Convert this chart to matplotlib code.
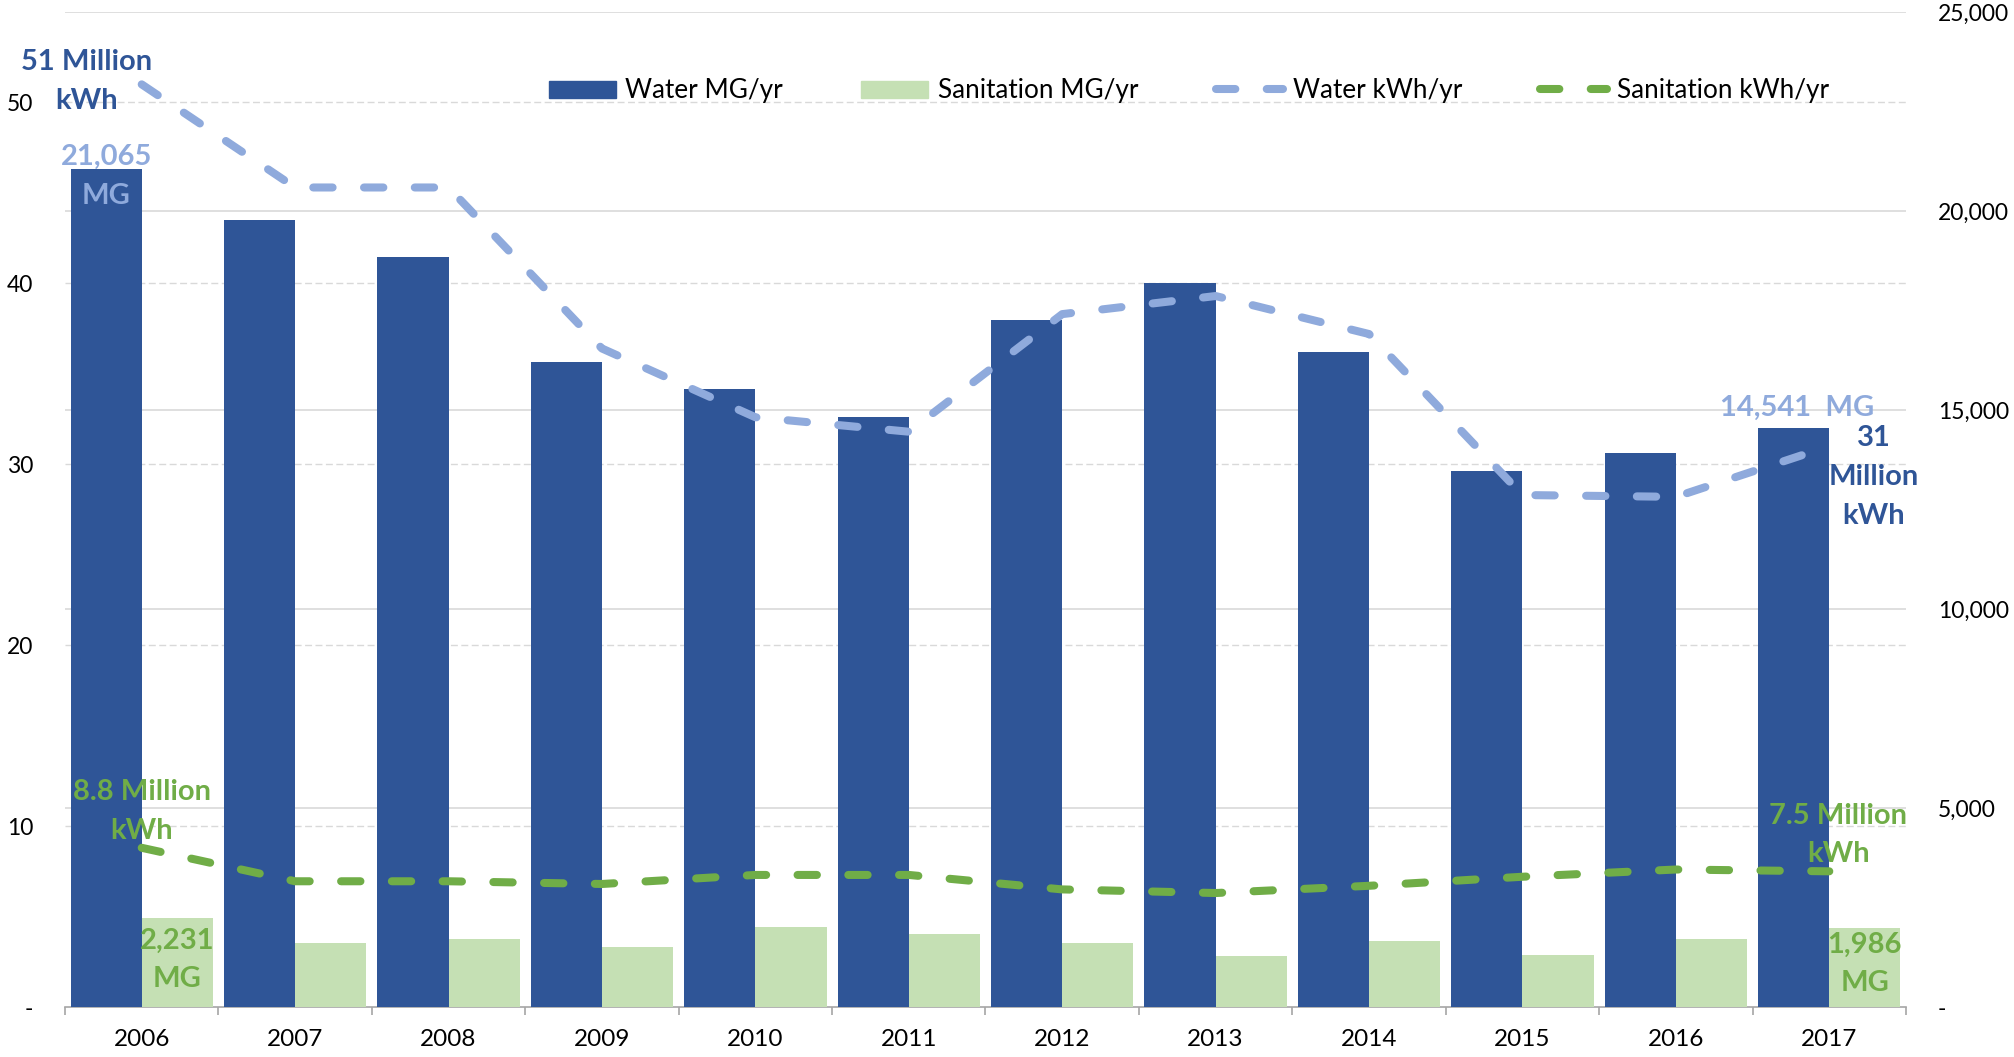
import numpy as np
import matplotlib.pyplot as plt
from matplotlib.patches import Patch
from matplotlib.lines import Line2D

plt.rcParams['font.family'] = ['Lato', 'DejaVu Sans']

# data
years = ['2006', '2007', '2008', '2009', '2010', '2011',
         '2012', '2013', '2014', '2015', '2016', '2017']
water_mg = [21065, 19780, 18840, 16210, 15530, 14820,
            17265, 18195, 16460, 13470, 13920, 14541]
sanit_mg = [2231, 1610, 1700, 1510, 2000, 1840,
            1610, 1280, 1670, 1310, 1710, 1986]
water_kwh = [51, 45.3, 45.3, 36.4, 32.6, 31.8,
             38.3, 39.3, 37.2, 28.3, 28.2, 31]
sanit_kwh = [8.8, 6.95, 6.95, 6.8, 7.3, 7.3,
             6.5, 6.3, 6.7, 7.2, 7.6, 7.5]

c_water = '#2F5597'
c_sanit = '#C5E0B4'
c_wline = '#8FAADC'
c_sline = '#70AD47'
grid_c = '#D9D9D9'

fig = plt.figure(figsize=(20.15, 10.57), dpi=100)
ax = fig.add_axes([65/2015, 50/1057, 1841/2015, 995/1057])
ax2 = ax.twinx()

x = np.arange(len(years))
w = 0.464
RMAX, LMAX = 25000, 55

# bars (right scale)
ax.bar(x - w/2, water_mg, w, color=c_water, zorder=3)
ax.bar(x + w/2, sanit_mg, w, color=c_sanit, zorder=3)
ax.set_ylim(0, RMAX)
ax.set_xlim(-0.5, len(years) - 0.5)

# solid grid for right axis, dashed grid for left axis (kept behind bars)
for v in range(5000, RMAX + 1, 5000):
    ax.axhline(v, color=grid_c, lw=1.2, zorder=1)
for v in range(10, 51, 10):
    ax.axhline(v / LMAX * RMAX, color=grid_c, lw=1.0, ls=(0, (5, 2.5)), zorder=1)

# lines (left scale)
lkw = dict(lw=5.8, dash_capstyle='round', solid_capstyle='round')
ax2.plot(x, water_kwh, color=c_wline, dashes=(2.4, 3.9), **lkw)
ax2.plot(x, sanit_kwh, color=c_sline, dashes=(2.4, 3.9), **lkw)
ax2.set_ylim(0, LMAX)

# ticks
ax.yaxis.tick_right()
ax.set_yticks(range(0, RMAX + 1, 5000))
ax.set_yticklabels(['-'] + ['{:,}'.format(v) for v in range(5000, RMAX + 1, 5000)])
ax.tick_params(axis='y', length=0, pad=23, labelsize=16.5)

ax2.yaxis.tick_left()
ax2.set_yticks(range(0, 51, 10))
ax2.set_yticklabels(['-'] + [str(v) for v in range(10, 51, 10)])
ax2.tick_params(axis='y', length=0, pad=23, labelsize=16.5)

ax.set_xticks(x)
ax.set_xticklabels(years)
ax.set_xticks(np.arange(-0.5, len(years)), minor=True)
ax.tick_params(axis='x', which='major', length=0, pad=16, labelsize=17.5)
ax.tick_params(axis='x', which='minor', length=6, width=1.2, color='#A6A6A6')

for a in (ax, ax2):
    for s in ['top', 'left', 'right', 'bottom']:
        a.spines[s].set_visible(False)
ax.spines['bottom'].set_visible(True)
ax.spines['bottom'].set_color('#A6A6A6')
ax.spines['bottom'].set_linewidth(1.2)

# data labels
bold = dict(fontsize=21, fontweight='bold', ha='center', va='center', linespacing=1.6)
ax2.text(-0.36, water_kwh[0] + 1.25, '51 Million', color=c_water, **bold)
ax2.text(-0.36, water_kwh[0] - 0.9, 'kWh', color=c_water, **bold)
ax.text(-w/2, water_mg[0] - 200, '21,065\nMG', color=c_wline, **bold)
ax.text(11 - 0.21, water_mg[11] + 510, '14,541  MG', color=c_wline, **bold)
ax2.text(11.29, water_kwh[11] - 1.7, '31\nMillion\nkWh', color=c_water, **bold)
ax2.text(0.0, sanit_kwh[0] + 2.0, '8.8 Million\nkWh', color=c_sline, **bold)
ax.text(w/2, sanit_mg[0] - 1050, '2,231\nMG', color=c_sline, **bold)
ax2.text(11.06, sanit_kwh[11] + 2.0, '7.5 Million\nkWh', color=c_sline, **bold)
ax.text(11 + w/2, sanit_mg[11] - 900, '1,986\nMG', color=c_sline, **bold)

# legend
handles = [Patch(color=c_water), Patch(color=c_sanit),
           Line2D([], [], color=c_wline, dashes=(2.4, 3.9), **lkw),
           Line2D([], [], color=c_sline, dashes=(2.4, 3.9), **lkw)]
labels = ['Water MG/yr', 'Sanitation MG/yr', 'Water kWh/yr', 'Sanitation kWh/yr']
fig.legend(handles, labels, loc='center', bbox_to_anchor=(0.59, 0.914), ncol=4,
           frameon=False, fontsize=18.8, handlelength=2.57, handletextpad=0.35,
           columnspacing=3.0, handleheight=0.65)

fig.savefig('out.png', dpi=100)
